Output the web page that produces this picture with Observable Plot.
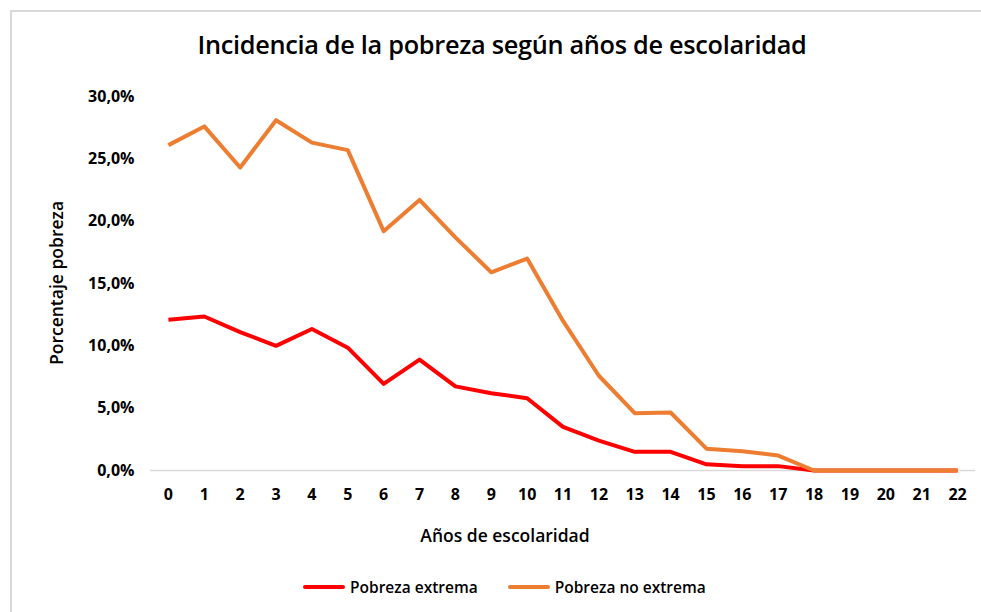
<!DOCTYPE html>
<html>
<head>
<meta charset="utf-8">
<script src="https://cdn.jsdelivr.net/npm/d3@7"></script>
<script src="https://cdn.jsdelivr.net/npm/@observablehq/plot@0.6"></script>
<style>
  html, body { margin: 0; padding: 0; background: #fff; }
  body { width: 981px; height: 612px; position: relative; overflow: hidden; font-family: "Open Sans", "Noto Sans", sans-serif; color: #000; }
  #frame { position: absolute; left: 10px; top: 10px; width: 1100px; height: 700px; border-left: 2px solid #d9d9d9; border-top: 2px solid #d9d9d9; box-sizing: border-box; }
  #title { position: absolute; left: 0; width: 1004px; top: 27px; text-align: center; font-size: 25.3px; font-weight: 600; letter-spacing: -0.3px; }
  #chart { position: absolute; left: 0; top: 80px; }
  #ylabel { position: absolute; left: 56px; top: 283px; transform: translate(-50%, -50%) rotate(-90deg); font-size: 17.5px; font-weight: 600; white-space: nowrap; }
  #xlabel { position: absolute; left: 505px; top: 535px; transform: translate(-50%, -50%); font-size: 17.5px; font-weight: 600; white-space: nowrap; }
  #legend { position: absolute; top: 576px; left: 303px; display: flex; align-items: center; font-size: 15.5px; font-weight: 600; white-space: nowrap; }
  .sw { display: inline-block; width: 42px; height: 4px; margin-right: 5px; border-radius: 2px; }
  .item { display: flex; align-items: center; margin-right: 30px; }
</style>
</head>
<body>
<div id="frame"></div>
<div id="title">Incidencia de la pobreza según años de escolaridad</div>
<div id="chart"></div>
<div id="ylabel">Porcentaje pobreza</div>
<div id="xlabel">Años de escolaridad</div>
<div id="legend"></div>
<script>
const years = [0,1,2,3,4,5,6,7,8,9,10,11,12,13,14,15,16,17,18,19,20,21,22];
const extrema = [12.1,12.35,11.1,10.0,11.35,9.85,6.95,8.9,6.75,6.2,5.8,3.5,2.4,1.5,1.5,0.5,0.35,0.35,0,0,0,0,0];
const noExtrema = [26.1,27.6,24.3,28.1,26.3,25.7,19.2,21.7,18.7,15.9,17.0,12.0,7.6,4.6,4.65,1.75,1.55,1.2,0,0,0,0,0];
const seriesNames = ["Pobreza extrema", "Pobreza no extrema"];
const seriesColors = ["#ff0000", "#ed7d31"];
const yTicks = [0,5,10,15,20,25,30];

const data = [];
years.forEach((y, i) => {
  data.push({year: y, value: extrema[i], serie: seriesNames[0]});
});
years.forEach((y, i) => {
  data.push({year: y, value: noExtrema[i], serie: seriesNames[1]});
});

const fmt = d => d.toFixed(1).replace(".", ",") + "%";

const chart = Plot.plot({
  width: 981,
  height: 480,
  marginLeft: 150,
  marginRight: 6,
  marginTop: 16,
  marginBottom: 90,
  style: {fontFamily: "'Open Sans', sans-serif", fontSize: "16px", fontWeight: 700, color: "#000", background: "transparent"},
  x: {type: "point", domain: years, padding: 0.5, round: false},
  y: {domain: [0, 30]},
  color: {domain: seriesNames, range: seriesColors},
  marks: [
    Plot.ruleY([0], {stroke: "#d9d9d9", strokeWidth: 1.5}),
    Plot.axisY({ticks: yTicks, tickFormat: fmt, tickSize: 0, tickPadding: 16, label: null, fontSize: 16}),
    Plot.axisX({tickSize: 0, tickPadding: 18, label: null, fontSize: 16}),
    Plot.line(data, {x: "year", y: "value", z: "serie", stroke: "serie", strokeWidth: 4, strokeLinejoin: "round", strokeLinecap: "butt"})
  ]
});
document.getElementById("chart").appendChild(chart);

const legend = document.getElementById("legend");
seriesNames.forEach((n, i) => {
  const item = document.createElement("div");
  item.className = "item";
  const sw = document.createElement("span");
  sw.className = "sw";
  sw.style.background = seriesColors[i];
  item.appendChild(sw);
  item.appendChild(document.createTextNode(n));
  legend.appendChild(item);
});
</script>
</body>
</html>
